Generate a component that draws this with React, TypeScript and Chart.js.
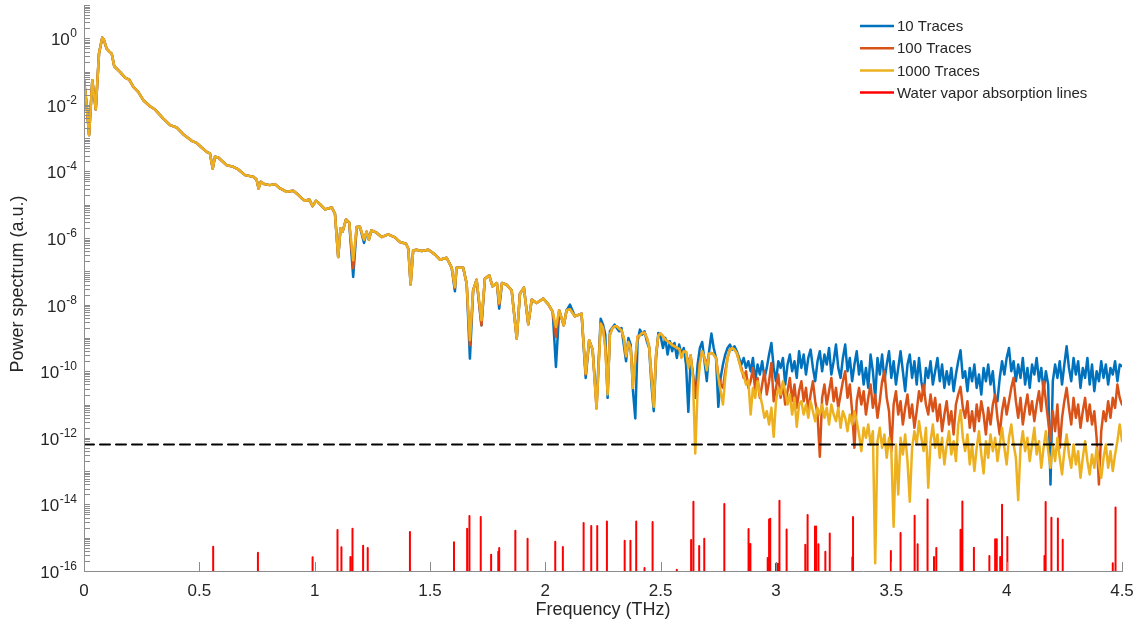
import React, { useEffect, useRef } from 'react';
import { Chart, registerables } from 'chart.js';

Chart.register(...registerables);

const FONT = '"Liberation Sans", Arial, sans-serif';
const TEXT = '#262626';
const AXIS = '#8c8c8c';

const SERIES_LABELS = ['10 Traces', '100 Traces', '1000 Traces', 'Water vapor absorption lines'];
const SERIES_COLORS = ['#0072BD', '#D95319', '#EDB120', '#FF0000'];

const X_TICKS = [0, 0.5, 1, 1.5, 2, 2.5, 3, 3.5, 4, 4.5];
const X_TICK_LABELS = ['0', '0.5', '1', '1.5', '2', '2.5', '3', '3.5', '4', '4.5'];
const Y_LABEL_EXPONENTS = [0, -2, -4, -6, -8, -10, -12, -14, -16];

// Low-frequency part (all three averages coincide), log10 of power
const LOW_FREQ = [
  0.000, 0.011, 0.022, 0.036, 0.051, 0.065, 0.079, 0.086, 0.098, 0.110,
  0.120, 0.131, 0.156, 0.178, 0.196, 0.214, 0.235, 0.257, 0.286, 0.308,
  0.344, 0.373, 0.402, 0.430, 0.467, 0.488, 0.510, 0.532, 0.546, 0.558,
  0.568, 0.582, 0.618, 0.647, 0.669, 0.698, 0.734, 0.748, 0.757, 0.766,
  0.782, 0.806, 0.828, 0.850, 0.879, 0.907, 0.922, 0.944, 0.958, 0.977,
  0.991, 1.006, 1.023, 1.045, 1.074, 1.088, 1.102, 1.112, 1.121, 1.136,
  1.150, 1.167, 1.182, 1.196, 1.214, 1.225, 1.235, 1.246, 1.268, 1.290,
  1.319, 1.348, 1.370, 1.396, 1.406, 1.416, 1.427, 1.441, 1.464, 1.493,
  1.521, 1.543, 1.572, 1.594, 1.608, 1.615, 1.644, 1.659, 1.673, 1.687,
  1.702, 1.723, 1.738, 1.757, 1.771, 1.790, 1.800, 1.812, 1.832, 1.854,
  1.876, 1.890, 1.907, 1.926, 1.941, 1.962, 1.991, 2.013, 2.032, 2.046,
  2.060, 2.080, 2.092, 2.107, 2.128, 2.157, 2.175, 2.190, 2.205, 2.222,
  2.240,
];
const LOW_LOG = [
  -1.24, -1.96, -2.91, -1.26, -2.14, -0.46, 0.02, -0.04, -0.31, -0.40,
  -0.46, -0.84, -1.01, -1.18, -1.24, -1.46, -1.61, -1.86, -2.04, -2.14,
  -2.41, -2.61, -2.68, -2.88, -3.08, -3.14, -3.28, -3.41, -3.46, -3.91,
  -3.56, -3.58, -3.81, -3.86, -3.94, -4.11, -4.16, -4.24, -4.51, -4.31,
  -4.38, -4.41, -4.38, -4.51, -4.61, -4.58, -4.66, -4.81, -4.88, -4.84,
  -5.04, -4.88, -4.98, -5.14, -5.08, -5.27, -6.57, -5.71, -5.81, -5.44,
  -5.54, -6.67, -5.67, -5.66, -6.05, -5.81, -6.05, -5.77, -5.84, -5.97,
  -5.89, -5.98, -6.12, -6.17, -6.32, -7.39, -6.37, -6.35, -6.39, -6.35,
  -6.49, -6.65, -6.59, -6.89, -7.47, -6.89, -6.89, -7.37, -9.07, -7.57,
  -7.25, -8.47, -7.22, -7.12, -7.45, -7.35, -7.96, -7.35, -7.40, -7.57,
  -9.02, -7.67, -7.49, -8.59, -7.85, -7.95, -7.82, -7.99, -8.22, -8.67,
  -8.17, -8.62, -8.17, -8.14, -8.35, -8.27, -10.07, -9.07, -9.35, -11.12,
  -8.57,
];
// Deeper dips of the 10- and 100-trace averages in the low part
const DIP_FREQ = [1.167, 1.214, 1.608, 1.673, 1.723, 1.800, 2.046, 2.107, 2.175, 2.222, 2.240];
const DIP_LOG_10 = [-7.17, -6.15, -7.6, -9.62, -8.62, -8.12, -9.87, -8.0, -10.2, -11.0, -8.42];
const DIP_LOG_100 = [-6.91, -6.05, -7.5, -9.22, -8.62, -8.0, -8.97, -8.14, -10.1, -11.12, -8.55];

// High-frequency part, 2.25 to 4.50 THz every 0.01 THz
const HIGH_START = 2.25;
const HIGH_STEP = 0.01;
const HIGH_LOG_10 = [
  -8.6, -8.9, -10.8, -8.8, -8.7,
  -8.6, -8.7, -8.8, -8.7, -9.2, -9.7, -9.0, -9.2, -10.6, -11.42,
  -9.1, -8.75, -8.9, -8.8, -9.1, -9.3, -10.4, -11.2, -9.6, -8.85,
  -8.95, -9.3, -9.0, -9.5, -9.1, -9.4, -9.15, -9.6, -9.2, -9.5,
  -9.3, -9.8, -11.22, -9.6, -10.1, -10.8, -9.8, -9.3, -9.12, -9.7,
  -10.3, -9.4, -8.87, -9.3, -9.6, -11.07, -10.2, -9.8, -9.5, -9.3,
  -9.2, -9.35, -9.25, -9.4, -9.6, -9.8, -9.6, -9.9, -9.7, -10.0,
  -9.6, -10.3, -9.8, -10.1, -9.7, -10.2, -9.9, -9.5, -9.15, -9.9,
  -10.3, -9.7, -9.9, -9.6, -10.4, -9.8, -9.5, -10.0, -9.7, -10.2,
  -9.4, -9.9, -9.5, -10.1, -9.6, -9.35, -9.9, -10.3, -9.7, -9.4,
  -10.0, -9.5, -9.8, -9.3, -10.1, -9.7, -9.2, -9.9, -10.2, -9.6,
  -9.2, -10.0, -9.6, -10.3, -9.8, -9.4, -10.1, -9.7, -10.4, -9.9,
  -10.5, -9.5, -10.0, -10.8, -9.6, -10.1, -9.5, -10.3, -9.8, -9.4,
  -10.2, -9.7, -10.4, -9.9, -9.4, -10.0, -10.6, -9.8, -9.5, -10.2,
  -9.7, -10.4, -9.6, -10.3, -10.7, -9.9, -10.2, -9.7, -10.4, -10.0,
  -9.6, -10.3, -9.8, -10.5, -10.0, -10.4, -9.9, -10.6, -10.1, -9.7,
  -9.37, -10.2, -10.0, -10.6, -9.9, -10.3, -9.8, -10.5, -10.1, -10.7,
  -9.9, -10.3, -9.8, -10.4, -10.0, -10.8, -10.9, -10.2, -9.7, -10.1,
  -9.6, -9.3, -10.0, -9.7, -10.3, -9.8, -10.2, -9.6, -10.4, -9.9,
  -10.5, -9.8, -10.1, -9.6, -10.3, -9.9, -10.6, -10.0, -10.4, -13.4,
  -10.3, -9.8, -10.2, -9.7, -10.4, -9.8, -9.25, -9.9, -10.3, -9.6,
  -10.1, -9.7, -10.5, -9.9, -10.2, -9.6, -10.4, -9.8, -10.6, -10.0,
  -10.3, -9.7, -10.2, -9.8, -10.4, -9.9, -10.1, -9.7, -10.3, -9.8,
  -9.85,
];
const HIGH_LOG_100 = [
  -8.7, -9.25, -10.6, -8.9, -8.72,
  -8.65, -8.65, -8.72, -8.77, -9.0, -9.55, -9.12, -9.3, -10.3, -9.7,
  -8.95, -8.92, -8.85, -8.84, -9.0, -9.26, -10.1, -10.9, -9.5, -8.92,
  -8.87, -8.95, -9.05, -9.1, -9.15, -9.2, -9.25, -9.3, -9.32, -9.5,
  -9.4, -9.42, -9.8, -9.52, -10.1, -10.77, -10.3, -9.7, -9.4, -9.6,
  -9.8, -9.47, -9.45, -9.5, -9.6, -10.1, -10.4, -10.5, -10.0, -9.6,
  -9.35, -9.3, -9.35, -9.45, -9.7, -9.9, -10.2, -10.0, -10.5, -10.3,
  -9.9, -10.6, -10.2, -10.8, -10.4, -10.0, -10.7, -10.3, -9.75, -10.9,
  -10.5, -10.1, -10.8, -10.4, -11.0, -10.6, -10.2, -10.9, -10.4, -11.1,
  -10.6, -10.3, -10.9, -10.5, -11.2, -10.7, -10.3, -10.9, -11.3, -12.57,
  -10.8, -10.4, -11.0, -10.6, -10.2, -10.9, -10.5, -11.1, -10.7, -10.3,
  -10.0, -10.8, -10.4, -11.2, -12.3, -10.9, -10.5, -11.0, -10.6, -11.3,
  -10.8, -10.4, -11.1, -10.7, -11.4, -10.9, -10.3, -10.0, -10.8, -11.2,
  -12.4, -11.0, -10.6, -11.3, -10.9, -11.6, -11.1, -10.7, -11.4, -11.0,
  -11.7, -11.2, -10.6, -10.9, -10.4, -11.0, -11.3, -10.7, -11.2, -10.8,
  -11.5, -11.0, -11.8, -11.3, -10.9, -11.6, -11.2, -11.9, -11.0, -10.7,
  -10.47, -11.1, -11.4, -10.9, -11.7, -11.2, -11.8, -11.0, -11.5, -10.9,
  -11.3, -11.9, -11.1, -11.6, -11.0, -10.7, -11.4, -11.9, -11.2, -10.8,
  -11.3, -10.9, -10.5, -10.2, -10.9, -11.4, -10.8, -11.6, -11.1, -10.7,
  -11.3, -10.9, -11.5, -11.0, -10.6, -11.2, -10.3, -10.9, -11.5, -12.1,
  -11.2, -11.8, -11.0, -12.3, -11.4, -10.9, -10.5, -11.1, -11.6, -10.8,
  -11.4, -11.0, -11.7, -11.2, -10.8, -11.5, -11.0, -11.6, -11.2, -12.0,
  -13.4, -11.8, -11.2, -11.5, -10.9, -11.4, -10.8, -11.1, -10.4, -10.8,
  -11.0,
];
const HIGH_LOG_1000 = [
  -8.7, -9.3, -10.7, -8.9, -8.72,
  -8.65, -8.65, -8.72, -8.77, -9.0, -9.55, -9.12, -9.3, -10.5, -9.6,
  -8.95, -8.92, -8.85, -8.84, -9.0, -9.26, -10.2, -11.07, -9.5, -8.92,
  -8.87, -8.95, -9.05, -9.1, -9.15, -9.22, -9.25, -9.3, -9.32, -9.6,
  -9.4, -9.42, -9.9, -9.52, -10.2, -12.47, -10.6, -9.77, -9.4, -9.6,
  -9.97, -9.47, -9.45, -9.5, -9.6, -10.2, -10.6, -11.0, -10.2, -9.6,
  -9.37, -9.3, -9.35, -9.45, -9.7, -10.0, -10.1, -10.4, -10.27, -11.3,
  -10.5, -10.8, -10.3, -10.7, -11.0, -11.4, -11.2, -11.6, -11.1, -11.97,
  -10.9, -10.5, -10.7, -10.3, -10.6, -11.0, -10.7, -11.3, -10.8, -11.67,
  -11.0, -10.9, -11.3, -11.0, -11.4, -10.9, -11.2, -11.5, -11.1, -11.3,
  -11.0, -11.4, -11.1, -11.6, -11.0, -11.3, -11.5, -11.1, -11.7, -11.2,
  -11.4, -11.8, -11.3, -11.6, -11.2, -11.5, -11.9, -12.4, -11.7, -12.0,
  -11.6, -12.2, -11.8, -15.77, -12.1, -11.7, -12.3, -11.9, -12.6, -12.0,
  -12.4, -14.67, -12.2, -13.7, -12.0, -12.5, -11.9, -12.7, -13.92, -12.3,
  -11.8, -12.2, -11.5, -12.0, -12.4, -11.7, -13.5, -12.1, -11.6, -12.3,
  -11.9, -12.6, -12.0, -12.8, -12.2, -11.8, -12.5, -12.1, -12.7, -11.6,
  -11.17, -12.0, -12.4, -11.9, -12.8, -12.2, -13.0, -12.3, -11.8, -12.5,
  -13.07, -12.1, -12.6, -11.9, -12.4, -12.0, -12.7, -12.2, -11.7, -12.3,
  -12.8, -12.0, -11.6, -12.2, -12.6, -13.87, -12.3, -11.8, -12.4, -12.0,
  -12.7, -12.2, -11.7, -12.5, -12.1, -12.9, -12.3, -11.8, -12.4, -12.9,
  -12.2, -12.7, -12.0, -12.6, -13.1, -12.4, -11.9, -12.5, -12.9, -12.2,
  -12.8, -12.4, -13.2, -12.6, -12.1, -12.7, -13.1, -12.5, -12.9, -12.3,
  -12.8, -13.2, -12.6, -12.2, -12.9, -12.4, -13.0, -12.5, -12.1, -11.6,
  -12.1,
];

// Water vapour absorption lines (frequency, log10 of line height)
const WATER_FREQ = [
  0.560, 0.754, 0.991, 1.099, 1.116, 1.155, 1.164, 1.210, 1.230, 1.413,
  1.604, 1.661, 1.671, 1.720, 1.765, 1.796, 1.800, 1.870, 1.923, 2.043,
  2.076, 2.166, 2.199, 2.225, 2.267, 2.344, 2.369, 2.394, 2.430, 2.465,
  2.570, 2.632, 2.642, 2.667, 2.689, 2.776, 2.881, 2.889, 2.964, 2.970,
  2.975, 3.000, 3.007, 3.015, 3.046, 3.127, 3.137, 3.169, 3.174, 3.184,
  3.214, 3.233, 3.331, 3.334, 3.498, 3.540, 3.601, 3.614, 3.657, 3.685,
  3.695, 3.800, 3.808, 3.858, 3.925, 3.950, 3.957, 3.972, 3.980, 4.003,
  4.164, 4.169, 4.194, 4.222, 4.243, 4.460, 4.472,
];
const WATER_LOG = [
  -15.27, -15.45, -15.59, -14.77, -15.29, -15.58, -14.73, -15.24, -15.31, -14.83,
  -15.14, -14.73, -14.35, -14.38, -15.51, -15.42, -15.31, -14.79, -15.03, -15.12,
  -15.28, -14.56, -14.65, -14.65, -14.51, -15.09, -15.09, -14.51, -15.91, -14.53,
  -15.96, -15.07, -13.92, -15.25, -15.03, -13.99, -14.74, -15.19, -15.61, -14.45,
  -14.43, -15.78, -15.78, -13.89, -14.75, -15.21, -14.32, -14.66, -14.66, -15.2,
  -15.42, -14.87, -15.59, -14.38, -15.4, -14.86, -14.34, -15.2, -13.85, -15.58,
  -15.31, -14.76, -13.91, -15.3, -15.55, -15.05, -15.05, -15.58, -14.01, -14.98,
  -15.55, -13.93, -14.4, -14.42, -15.06, -15.77, -14.09,
];

const NOISE_FLOOR = 6.3e-13;
const NOISE_FLOOR_RANGE = [0, 4.46];
const Y_MIN = 1e-16;
const Y_MAX = 10;

type Pt = { x: number; y: number | null };

function buildTrace(dipLog: number[] | null, highLog: number[]): Pt[] {
  const pts: Pt[] = LOW_FREQ.map((f, i) => {
    let v = LOW_LOG[i];
    if (dipLog) {
      const k = DIP_FREQ.indexOf(f);
      if (k >= 0) v = dipLog[k];
    }
    return { x: f, y: Math.pow(10, v) };
  });
  highLog.forEach((v, i) => {
    pts.push({ x: Math.round((HIGH_START + i * HIGH_STEP) * 1000) / 1000, y: Math.pow(10, v) });
  });
  return pts;
}

function buildWater(): Pt[] {
  const pts: Pt[] = [];
  WATER_FREQ.forEach((f, i) => {
    pts.push({ x: f, y: Y_MIN });
    pts.push({ x: f, y: Math.pow(10, WATER_LOG[i]) });
    pts.push({ x: f, y: null });
  });
  return pts;
}

const matlabAxes = {
  id: 'matlabAxes',
  afterDraw(chart: any) {
    const { ctx, chartArea: a, scales } = chart;
    const xs = scales.x;
    const ys = scales.y;
    ctx.save();
    ctx.strokeStyle = AXIS;
    ctx.lineWidth = 1;
    ctx.beginPath();
    ctx.moveTo(a.left + 0.5, a.top);
    ctx.lineTo(a.left + 0.5, a.bottom + 0.5);
    ctx.lineTo(a.right + 1, a.bottom + 0.5);
    for (const t of X_TICKS) {
      const px = Math.round(xs.getPixelForValue(t)) + 0.5;
      ctx.moveTo(px, a.bottom);
      ctx.lineTo(px, a.bottom - 9);
    }
    for (let e = -16; e <= 1; e++) {
      for (let m = 1; m <= 9; m++) {
        const v = m * Math.pow(10, e);
        if (v > Y_MAX * 1.0001) break;
        const py = Math.round(ys.getPixelForValue(v)) + 0.5;
        ctx.moveTo(a.left, py);
        ctx.lineTo(a.left + 6, py);
      }
    }
    ctx.stroke();

    // tick labels
    ctx.fillStyle = TEXT;
    ctx.font = `17px ${FONT}`;
    ctx.textAlign = 'center';
    ctx.textBaseline = 'middle';
    X_TICKS.forEach((t, i) => {
      ctx.fillText(X_TICK_LABELS[i], xs.getPixelForValue(t), a.bottom + 20);
    });
    for (const e of Y_LABEL_EXPONENTS) {
      const py = ys.getPixelForValue(Math.pow(10, e));
      const expText = String(e);
      ctx.textAlign = 'right';
      ctx.textBaseline = 'alphabetic';
      ctx.font = `12px ${FONT}`;
      const right = a.left - 7;
      ctx.fillText(expText, right, py - 1);
      const w = ctx.measureText(expText).width;
      ctx.font = `17px ${FONT}`;
      ctx.fillText('10', right - w - 0.5, py + 7);
    }

    // axis titles
    ctx.font = `18px ${FONT}`;
    ctx.textAlign = 'center';
    ctx.textBaseline = 'middle';
    ctx.fillText('Frequency (THz)', (a.left + a.right) / 2, 610);
    ctx.save();
    ctx.translate(18, 284);
    ctx.rotate(-Math.PI / 2);
    ctx.fillText('Power spectrum (a.u.)', 0, 0);
    ctx.restore();

    // legend
    ctx.font = `15px ${FONT}`;
    ctx.textAlign = 'left';
    ctx.textBaseline = 'middle';
    SERIES_LABELS.forEach((lab, i) => {
      const y = 26 + i * 22.2;
      ctx.strokeStyle = SERIES_COLORS[i];
      ctx.lineWidth = 2.5;
      ctx.beginPath();
      ctx.moveTo(860, y);
      ctx.lineTo(894, y);
      ctx.stroke();
      ctx.fillStyle = TEXT;
      ctx.fillText(lab, 897, y + 1);
    });
    ctx.restore();
  },
};

export default function App() {
  const ref = useRef<HTMLCanvasElement | null>(null);
  useEffect(() => {
    document.body.style.margin = '0';
    const canvas = ref.current;
    if (!canvas) return;
    const chart = new Chart(canvas, {
      type: 'line',
      data: {
        datasets: [
          {
            label: 'noise floor',
            data: [
              { x: NOISE_FLOOR_RANGE[0], y: NOISE_FLOOR },
              { x: NOISE_FLOOR_RANGE[1], y: NOISE_FLOOR },
            ],
            borderColor: '#000000',
            borderWidth: 2,
            borderDash: [10, 6],
            pointRadius: 0,
            order: 0,
          },
          {
            label: SERIES_LABELS[3],
            data: buildWater(),
            borderColor: SERIES_COLORS[3],
            borderWidth: 2,
            pointRadius: 0,
            spanGaps: false,
            order: 1,
          },
          {
            label: SERIES_LABELS[2],
            data: buildTrace(null, HIGH_LOG_1000),
            borderColor: SERIES_COLORS[2],
            borderWidth: 2.5,
            pointRadius: 0,
            order: 2,
          },
          {
            label: SERIES_LABELS[1],
            data: buildTrace(DIP_LOG_100, HIGH_LOG_100),
            borderColor: SERIES_COLORS[1],
            borderWidth: 2.5,
            pointRadius: 0,
            order: 3,
          },
          {
            label: SERIES_LABELS[0],
            data: buildTrace(DIP_LOG_10, HIGH_LOG_10),
            borderColor: SERIES_COLORS[0],
            borderWidth: 2.5,
            pointRadius: 0,
            order: 4,
          },
        ] as any,
      },
      options: {
        responsive: false,
        animation: false,
        devicePixelRatio: 1,
        layout: { padding: { top: 5, right: 18, left: 0, bottom: 0 } },
        elements: { line: { tension: 0, borderJoinStyle: 'round', borderCapStyle: 'round' } },
        plugins: { legend: { display: false }, tooltip: { enabled: false } },
        scales: {
          x: {
            type: 'linear',
            min: 0,
            max: 4.5,
            grid: { display: false },
            border: { display: false },
            ticks: { display: false },
            afterFit: (s: any) => { s.height = 56; },
          },
          y: {
            type: 'logarithmic',
            min: Y_MIN,
            max: Y_MAX,
            grid: { display: false },
            border: { display: false },
            ticks: { display: false },
            afterFit: (s: any) => { s.width = 84; },
          },
        },
      } as any,
      plugins: [matlabAxes],
    });
    return () => chart.destroy();
  }, []);
  return (
    <div style={{ width: 1140, height: 627, background: '#ffffff' }}>
      <canvas ref={ref} width={1140} height={627} />
    </div>
  );
}
